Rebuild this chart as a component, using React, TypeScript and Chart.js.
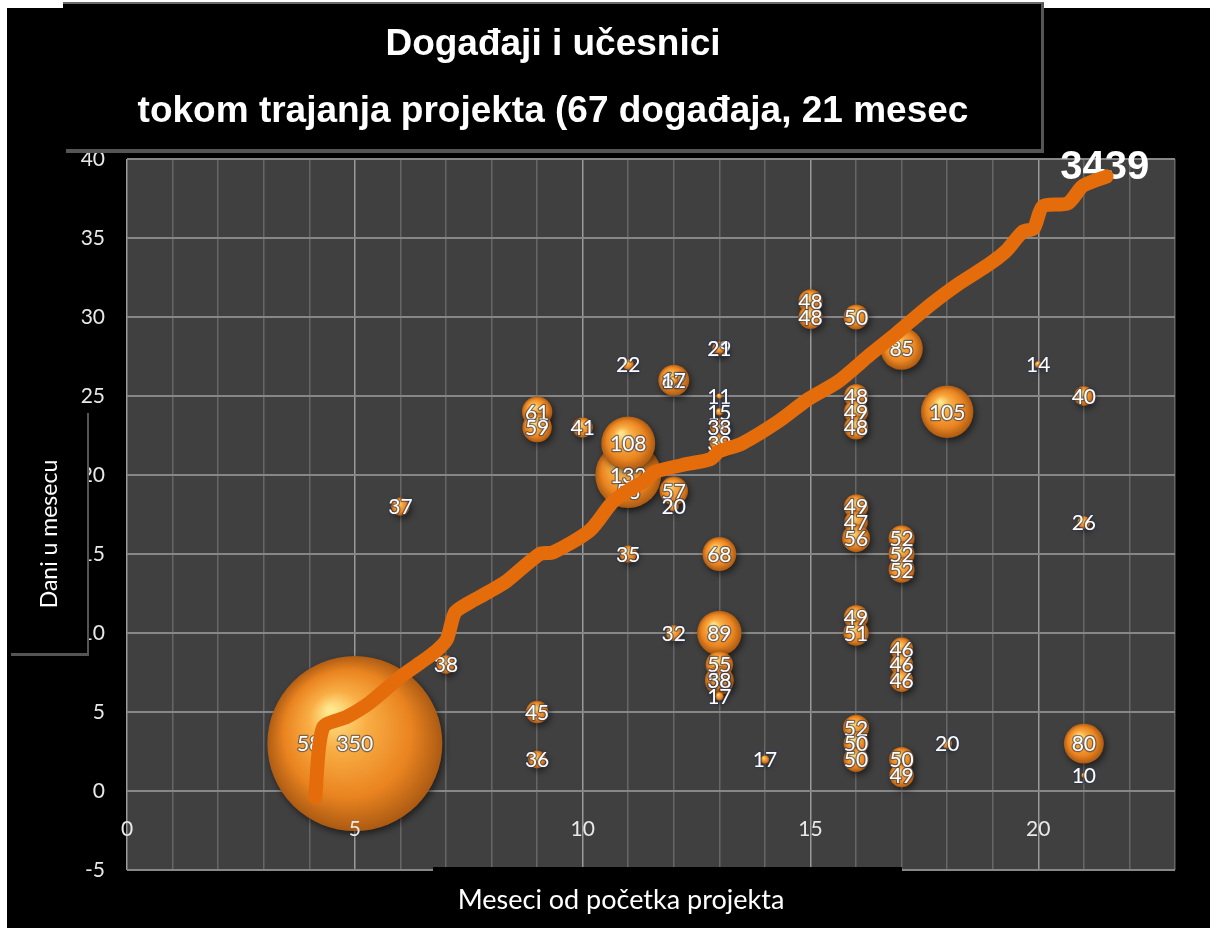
import React, { useEffect, useRef } from "react";
import { Chart, registerables } from "chart.js";

Chart.register(...registerables);

const titleLines = ["Događaji i učesnici", "tokom trajanja projekta (67 događaja, 21 mesec"];
const xTitle = "Meseci od početka projekta";
const yTitle = "Dani u mesecu";
const totalLabel = "3439";

// Events: month from project start, day in month, number of participants
const eventMonths = [4, 5, 6, 7, 9, 9, 9, 9, 10, 11, 11, 11, 11, 11, 12, 12, 12, 12, 12, 13, 13, 13, 13, 13, 13, 13, 13, 13, 13, 13, 13, 13, 14, 15, 15, 16, 16, 16, 16, 16, 16, 16, 16, 16, 16, 16, 16, 17, 17, 17, 17, 17, 17, 17, 17, 17, 18, 18, 20, 21, 21, 21, 21];
const eventDays = [3, 3, 18, 8, 24, 23, 5, 2, 23, 27, 19, 20, 22, 15, 26, 26, 19, 18, 10, 28, 28, 25, 24, 23, 23, 22, 15, 10, 8, 7, 7, 6, 2, 31, 30, 30, 25, 24, 23, 18, 17, 16, 11, 10, 4, 3, 2, 28, 16, 15, 14, 9, 8, 7, 2, 1, 24, 3, 27, 25, 17, 3, 1];
const eventParticipants = [58, 350, 37, 38, 61, 59, 45, 36, 41, 22, 53, 132, 108, 35, 62, 17, 57, 20, 32, 29, 21, 11, 15, 38, 33, 39, 68, 89, 55, 58, 38, 17, 17, 48, 48, 50, 48, 49, 48, 49, 47, 56, 49, 51, 52, 50, 50, 85, 52, 52, 52, 46, 46, 46, 50, 49, 105, 20, 14, 40, 26, 80, 10];

// Cumulative participants line (read in chart coordinates)
const cumulativeX = [4.13, 4.3, 4.83, 5.33, 5.99, 6.43, 6.8, 7.02, 7.2, 7.5, 7.94, 8.34, 9.06, 9.35, 10.16, 10.66, 11.04, 11.35, 11.6, 12.3, 12.8, 13.0, 13.5, 14.3, 14.95, 15.6, 16.3, 16.9, 17.6, 18.2, 18.9, 19.3, 19.66, 19.9, 20.1, 20.65, 20.98, 21.5];
const cumulativeY = [-0.4, 4.0, 4.7, 5.6, 7.2, 8.1, 8.9, 9.6, 11.3, 11.9, 12.6, 13.3, 15.0, 15.1, 16.5, 18.3, 19.1, 19.6, 20.2, 20.7, 21.0, 21.5, 22.0, 23.4, 24.8, 25.9, 27.6, 29.0, 30.7, 32.0, 33.3, 34.2, 35.4, 35.6, 37.0, 37.2, 38.3, 38.9];

const xTickLabels = [0, 5, 10, 15, 20];
const xMin = 0;
const xMax = 23;
const yMin = -5;
const yMax = 40;

const LABEL_FONT = "21px Lato, 'Open Sans', sans-serif";
const TICK_FONT = { family: "Lato, 'Open Sans', sans-serif", size: 21 };

const bubbleGradient = (c: any) => {
  const raw = c.raw;
  const chart = c.chart;
  if (!raw || !chart || !chart.scales || !chart.scales.x || !chart.scales.y) return "#F08A20";
  const px = chart.scales.x.getPixelForValue(raw.x);
  const py = chart.scales.y.getPixelForValue(raw.y);
  const r = Math.max(raw.r, 1);
  if (!Number.isFinite(px) || !Number.isFinite(py) || !Number.isFinite(r)) return "#F08A20";
  const g = chart.ctx.createRadialGradient(px - r * 0.28, py - r * 0.38, r * 0.03, px, py, r * 1.02);
  g.addColorStop(0, "#FFE98F");
  g.addColorStop(0.3, "#F9AE45");
  g.addColorStop(0.7, "#EA8420");
  g.addColorStop(1, "#A85812");
  return g;
};

const decor = {
  id: "decor",
  beforeDraw(chart: any) {
    const { ctx, chartArea } = chart;
    ctx.save();
    ctx.fillStyle = "#ffffff";
    ctx.fillRect(0, 0, chart.width, chart.height);
    ctx.fillStyle = "#000000";
    ctx.fillRect(7, 8, chart.width - 7, chart.height - 8);
    ctx.fillStyle = "#404040";
    ctx.fillRect(chartArea.left, chartArea.top, chartArea.right - chartArea.left, chartArea.bottom - chartArea.top);
    ctx.restore();
  },
  beforeDatasetDraw(chart: any, args: any) {
    if (args.meta.type === "bubble") {
      const ctx = chart.ctx;
      ctx.save();
      ctx.shadowColor = "rgba(0,0,0,0.55)";
      ctx.shadowBlur = 7;
      ctx.shadowOffsetX = 2;
      ctx.shadowOffsetY = 3;
    }
  },
  afterDatasetDraw(chart: any, args: any) {
    if (args.meta.type !== "bubble") return;
    const ctx = chart.ctx;
    ctx.restore();
    ctx.save();
    ctx.font = LABEL_FONT;
    ctx.textAlign = "center";
    ctx.textBaseline = "middle";
    ctx.lineJoin = "round";
    args.meta.data.forEach((el: any, i: number) => {
      const t = String(eventParticipants[i]);
      ctx.lineWidth = 2.5;
      ctx.strokeStyle = "rgba(45,55,80,0.6)";
      ctx.strokeText(t, el.x, el.y + 1);
      ctx.fillStyle = "#ffffff";
      ctx.fillText(t, el.x, el.y + 1);
    });
    // total label at the end of the cumulative line
    const lineMeta = chart.getDatasetMeta(0);
    const last = lineMeta.data[lineMeta.data.length - 1];
    if (last) {
      ctx.font = "bold 40px 'Liberation Sans', Arial, sans-serif";
      ctx.fillStyle = "#ffffff";
      ctx.fillText(totalLabel, last.x - 2, last.y - 8);
    }
    ctx.restore();
  },
  afterDraw(chart: any) {
    const { ctx } = chart;
    ctx.save();
    // title box
    ctx.fillStyle = "#000000";
    ctx.fillRect(63, 3, 980, 149);
    ctx.fillStyle = "#6a6a6a";
    ctx.fillRect(63, 2, 981, 2);
    ctx.fillStyle = "#555555";
    ctx.fillRect(1041, 3, 3, 150);
    ctx.fillRect(66, 149, 978, 4);
    ctx.fillStyle = "#ffffff";
    ctx.textAlign = "center";
    ctx.textBaseline = "middle";
    ctx.font = "bold 37px 'Liberation Sans', Arial, sans-serif";
    ctx.fillText(titleLines[0], 553, 45);
    ctx.fillText(titleLines[1], 553, 112);

    // y axis title box
    ctx.fillStyle = "#000000";
    ctx.fillRect(7, 413, 80, 241);
    ctx.fillStyle = "#555555";
    ctx.fillRect(87, 413, 2, 243);
    ctx.fillRect(11, 653, 78, 3);
    ctx.save();
    ctx.translate(50, 534);
    ctx.rotate(-Math.PI / 2);
    ctx.fillStyle = "#ffffff";
    ctx.font = "23px Lato, 'Open Sans', sans-serif";
    ctx.fillText(yTitle, 0, 0);
    ctx.restore();

    // x axis title box
    ctx.fillStyle = "#000000";
    ctx.fillRect(433, 867, 469, 61);
    ctx.fillStyle = "#ffffff";
    ctx.font = "27px Lato, 'Open Sans', sans-serif";
    ctx.textAlign = "center";
    ctx.textBaseline = "middle";
    ctx.fillText(xTitle, 621, 900);
    ctx.restore();
  },
};

export default function App() {
  const ref = useRef<HTMLCanvasElement>(null);
  useEffect(() => {
    document.body.style.margin = "0";
    const canvas = ref.current;
    if (!canvas) return;
    const bubbles = eventMonths.map((m, i) => ({
      x: m,
      y: eventDays[i],
      r: eventParticipants[i] / 4,
    }));
    const line = cumulativeX.map((x, i) => ({ x, y: cumulativeY[i] }));
    const chart = new Chart(canvas, {
      type: "bubble",
      data: {
        datasets: [
          {
            type: "line",
            label: "Ukupno učesnika",
            data: line,
            borderColor: "#E46C0A",
            borderWidth: 14,
            borderCapStyle: "round",
            borderJoinStyle: "round",
            pointRadius: 0,
            tension: 0.25,
            fill: false,
            order: 0,
          } as any,
          {
            type: "bubble",
            label: "Događaji",
            data: bubbles,
            backgroundColor: bubbleGradient,
            borderWidth: 0,
            order: 1,
          } as any,
        ],
      },
      options: {
        responsive: false,
        animation: false,
        events: [],
        layout: { autoPadding: false, padding: { left: 0, right: 35, top: 159, bottom: 58 } },
        plugins: {
          legend: { display: false },
          tooltip: { enabled: false },
          title: { display: false },
        },
        scales: {
          x: {
            type: "linear",
            min: xMin,
            max: xMax,
            position: { y: 0 } as any,
            ticks: { stepSize: 1, display: false },
            grid: {
              drawTicks: false,
              color: (c: any) => (c.tick && xTickLabels.includes(c.tick.value) ? "#9A9A9A" : "#666666"),
              lineWidth: 1.5,
            },
            border: { display: false },
          },
          xLabels: {
            type: "linear",
            axis: "x",
            min: xMin,
            max: xMax,
            position: { y: 0 } as any,
            ticks: {
              z: 1,
              stepSize: 1,
              autoSkip: false,
              maxRotation: 0,
              color: "#E8E8E8",
              font: TICK_FONT,
              padding: 26,
              callback: (v: any) => (xTickLabels.includes(Number(v)) ? String(v) : ""),
            },
            grid: { display: false, drawTicks: false },
            border: { display: false },
          },
          y: {
            type: "linear",
            min: yMin,
            max: yMax,
            ticks: {
              stepSize: 5,
              color: "#E8E8E8",
              font: TICK_FONT,
              padding: 22,
            },
            grid: { drawTicks: false, color: "#878787", lineWidth: 2 },
            border: { display: false },
            afterFit: (s: any) => {
              s.width = 127;
            },
          },
        },
      },
      plugins: [decor],
    } as any);
    try {
      Promise.all([
        document.fonts.load("21px Lato"),
        document.fonts.load("bold 33px 'Liberation Sans'"),
      ]).then(() => chart.update()).catch(() => {});
    } catch (e) {}
    return () => chart.destroy();
  }, []);
  return <canvas ref={ref} width={1210} height={928} style={{ display: "block" }} />;
}
